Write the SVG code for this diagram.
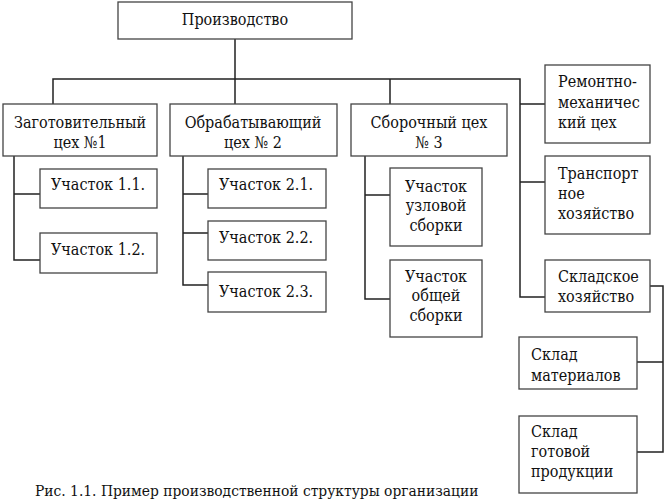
<svg xmlns="http://www.w3.org/2000/svg" width="664" height="501" viewBox="0 0 664 501">
<style>
rect{fill:#fff;stroke:#444;stroke-width:1.3}
.c path{fill:none;stroke:#222;stroke-width:1.5}
text{font-family:'DejaVu Serif Condensed','DejaVu Serif',serif;font-size:16px;fill:#111}
.m{text-anchor:middle}
</style>
<rect x="0" y="0" width="664" height="501" style="stroke:none"/>
<g class="c">
<path d="M235,39V104M53,104V79H520V297H545M390,79V104M520,104H545M520,182H545"/>
<path d="M650,286H663V452H637M663,362H637"/>
<path d="M14,156V260H40M14,194H40"/>
<path d="M183,156V285H208M183,194H208M183,233H208"/>
<path d="M365,156V299H390M365,195H390"/>
</g>
<g id="n0"><rect x="118" y="2" width="234" height="37"/><text class="m" x="235" y="25">Производство</text></g>
<g id="n1"><rect x="3" y="104" width="154" height="52"/><text class="m" x="80" y="128">Заготовительный</text><text class="m" x="80" y="148">цех №1</text></g>
<g id="n2"><rect x="170" y="104" width="167" height="52"/><text class="m" x="253" y="128">Обрабатывающий</text><text class="m" x="253" y="148">цех № 2</text></g>
<g id="n3"><rect x="351" y="104" width="156" height="52"/><text class="m" x="429" y="128">Сборочный цех</text><text class="m" x="429" y="148">№ 3</text></g>
<g id="n4"><rect x="545" y="65" width="105" height="78"/><text x="558" y="87">Ремонтно-</text><text x="558" y="108">механичес</text><text x="558" y="128">кий цех</text></g>
<g id="n5"><rect x="545" y="156" width="105" height="78"/><text x="558" y="179">Транспорт</text><text x="558" y="199">ное</text><text x="558" y="219">хозяйство</text></g>
<g id="n6"><rect x="545" y="260" width="105" height="52"/><text x="558" y="282">Складское</text><text x="558" y="302">хозяйство</text></g>
<g id="n7"><rect x="519" y="337" width="118" height="52"/><text x="531" y="360">Склад</text><text x="531" y="381">материалов</text></g>
<g id="n8"><rect x="519" y="416" width="118" height="77"/><text x="531" y="437">Склад</text><text x="531" y="457">готовой</text><text x="531" y="477">продукции</text></g>
<g id="n9"><rect x="40" y="169" width="117" height="39"/><text class="m" x="98" y="190">Участок 1.1.</text></g>
<g id="n10"><rect x="40" y="233" width="117" height="40"/><text class="m" x="98" y="255">Участок 1.2.</text></g>
<g id="n11"><rect x="208" y="169" width="118" height="39"/><text class="m" x="266" y="190">Участок 2.1.</text></g>
<g id="n12"><rect x="208" y="221" width="118" height="39"/><text class="m" x="266" y="243">Участок 2.2.</text></g>
<g id="n13"><rect x="208" y="272" width="118" height="40"/><text class="m" x="266" y="297">Участок 2.3.</text></g>
<g id="n14"><rect x="390" y="168" width="92" height="78"/><text class="m" x="436" y="192">Участок</text><text class="m" x="436" y="211">узловой</text><text class="m" x="436" y="231">сборки</text></g>
<g id="n15"><rect x="390" y="260" width="92" height="77"/><text class="m" x="436" y="282">Участок</text><text class="m" x="436" y="301">общей</text><text class="m" x="436" y="321">сборки</text></g>
<text x="35" y="496" style="font-size:15.4px">Рис. 1.1. Пример производственной структуры организации</text>
</svg>
